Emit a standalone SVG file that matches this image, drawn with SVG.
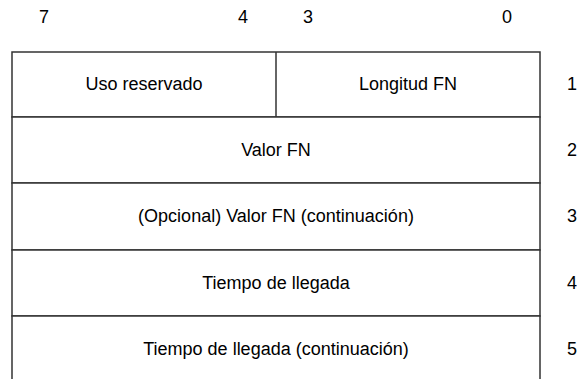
<svg xmlns="http://www.w3.org/2000/svg" width="577" height="379" viewBox="0 0 577 379">
<style>
.t{font-family:"Liberation Sans",Arial,sans-serif;font-size:18px;fill:#000}
.c{text-anchor:middle}
.b{fill:#fff;stroke:#333;stroke-width:1.5}
.l{stroke:#333;stroke-width:1.5;fill:none}
</style>
<rect width="577" height="379" fill="#fff"/>
<g id="bits">
<text class="t c" x="44" y="23">7</text>
<text class="t c" x="243" y="23">4</text>
<text class="t c" x="308" y="23">3</text>
<text class="t c" x="507" y="23">0</text>
</g>
<g id="row1">
<rect class="b" x="12" y="52" width="528" height="65"/>
<line class="l" x1="276" y1="52" x2="276" y2="117"/>
<text class="t c" x="144" y="90">Uso reservado</text>
<text class="t c" x="408" y="90">Longitud FN</text>
<text class="t" x="567" y="90">1</text>
</g>
<g id="row2">
<rect class="b" x="12" y="117" width="528" height="66"/>
<text class="t c" x="276" y="156">Valor FN</text>
<text class="t" x="567" y="156">2</text>
</g>
<g id="row3">
<rect class="b" x="12" y="183" width="528" height="67"/>
<text class="t c" x="276" y="222">(Opcional) Valor FN (continuación)</text>
<text class="t" x="567" y="222">3</text>
</g>
<g id="row4">
<rect class="b" x="12" y="250" width="528" height="66"/>
<text class="t c" x="276" y="289">Tiempo de llegada</text>
<text class="t" x="567" y="289">4</text>
</g>
<g id="row5">
<rect class="b" x="12" y="316" width="528" height="70"/>
<text class="t c" x="276" y="355">Tiempo de llegada (continuación)</text>
<text class="t" x="567" y="355">5</text>
</g>
<g id="connectors"></g>
</svg>
